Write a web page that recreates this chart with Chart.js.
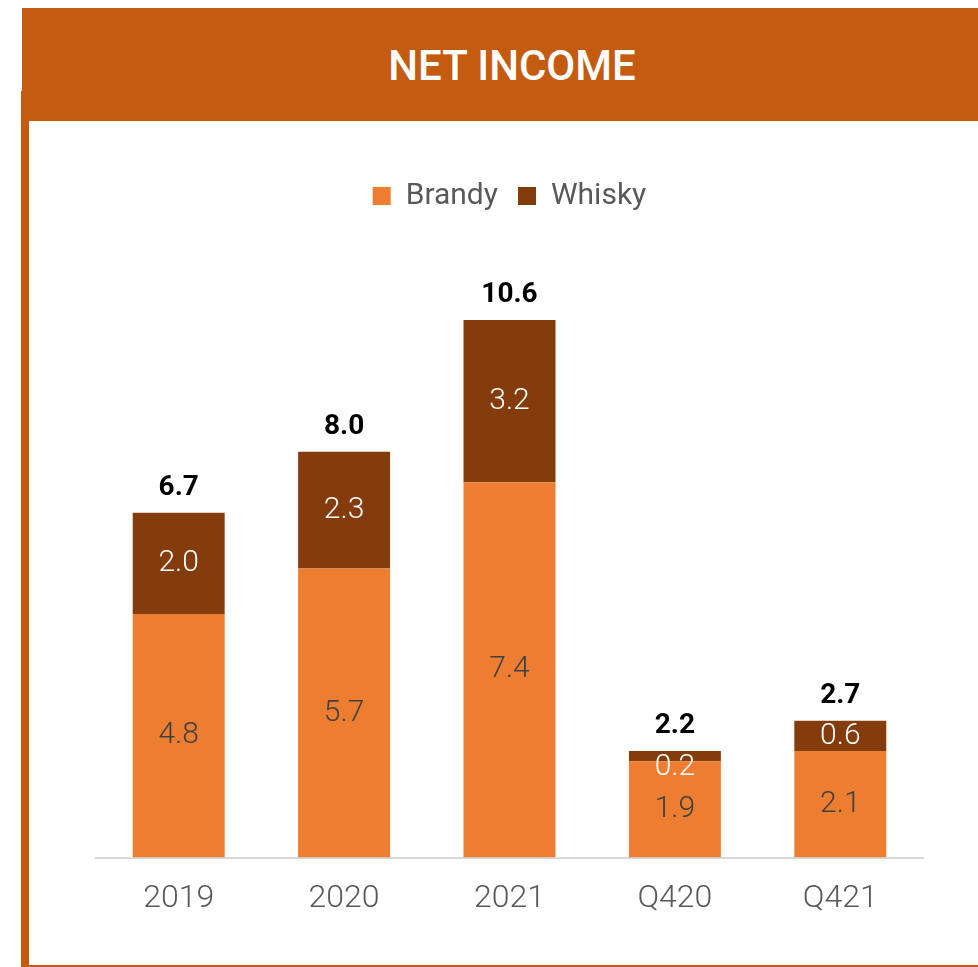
<!DOCTYPE html>
<html>
<head>
<meta charset="utf-8">
<script src="https://cdn.jsdelivr.net/npm/chart.js@4.4.1/dist/chart.umd.min.js"></script>
<style>
    html, body {
        margin: 0;
        padding: 0;
        background: #ffffff;
        width: 978px;
        height: 967px;
        overflow: hidden;
        position: relative;
        font-family: Roboto, "Noto Sans", sans-serif;
    }
    .header {
        position: absolute;
        left: 22px;
        top: 8px;
        width: 980px;
        height: 113px;
        background: #C55A11;
        color: #ffffff;
        font-size: 42px;
        font-weight: 500;
        line-height: 116px;
        text-align: center;
    }
    .frame-left {
        position: absolute;
        left: 21px;
        top: 91px;
        width: 8px;
        height: 876px;
        background: #C55A11;
    }
    .frame-bottom {
        position: absolute;
        left: 21px;
        top: 965px;
        width: 957px;
        height: 2px;
        background: #C55A11;
    }
    .chart-box {
        position: absolute;
        left: 30px;
        top: 121px;
        width: 948px;
        height: 842px;
    }
</style>
</head>
<body>
<div class="frame-left"></div>
<div class="header">NET INCOME</div>
<div class="frame-bottom"></div>
<div class="chart-box"><canvas id="incomeChart"></canvas></div>

<script>
const categories = ["2019", "2020", "2021", "Q420", "Q421"];
const brandy = [4.8, 5.7, 7.4, 1.9, 2.1];
const whisky = [2.0, 2.3, 3.2, 0.2, 0.6];
const totals = [6.7, 8.0, 10.6, 2.2, 2.7];

const brandyColor = '#ED7D31';
const whiskyColor = '#843C0C';

// value labels inside each segment, totals above each stack
const barLabels = {
    id: 'barLabels',
    afterDatasetsDraw(chart) {
        const ctx = chart.ctx;
        ctx.save();
        ctx.textAlign = 'center';
        ctx.textBaseline = 'middle';
        ctx.font = '300 30px Roboto';

        chart.data.datasets.forEach((ds, i) => {
            const meta = chart.getDatasetMeta(i);
            meta.data.forEach((bar, j) => {
                const top = Math.min(bar.y, bar.base);
                const bottom = Math.max(bar.y, bar.base);
                let y = (top + bottom) / 2;
                if (y < top + 16) y = top + 16; // thin slices push the label down
                ctx.fillStyle = i === 0 ? '#404040' : '#ffffff';
                ctx.fillText(ds.data[j].toFixed(1), bar.x, y);
            });
        });

        const topMeta = chart.getDatasetMeta(chart.data.datasets.length - 1);
        ctx.font = 'bold 28px Roboto';
        ctx.fillStyle = '#000000';
        topMeta.data.forEach((bar, j) => {
            ctx.fillText(totals[j].toFixed(1), bar.x, bar.y - 25);
        });
        ctx.restore();
    }
};

new Chart(document.getElementById('incomeChart'), {
    type: 'bar',
    data: {
        labels: categories,
        datasets: [
            { label: 'Brandy', data: brandy, backgroundColor: brandyColor, borderWidth: 0 },
            { label: 'Whisky', data: whisky, backgroundColor: whiskyColor, borderWidth: 0 }
        ]
    },
    options: {
        responsive: true,
        maintainAspectRatio: false,
        animation: false,
        barPercentage: 0.556,
        categoryPercentage: 1.0,
        layout: {
            padding: { left: 66, right: 55, top: 40, bottom: 31 }
        },
        plugins: {
            legend: {
                position: 'top',
                labels: {
                    boxWidth: 18,
                    boxHeight: 18,
                    padding: 20,
                    color: '#595959',
                    font: { family: 'Roboto', size: 30 }
                }
            },
            tooltip: { enabled: false }
        },
        scales: {
            x: {
                stacked: true,
                grid: { display: false },
                border: { color: '#D9D9D9', width: 2 },
                ticks: {
                    color: '#595959',
                    padding: 14,
                    font: { family: 'Roboto', size: 32, weight: 300 }
                }
            },
            y: {
                stacked: true,
                display: false,
                min: 0,
                max: 12.55
            }
        }
    },
    plugins: [barLabels]
});
</script>
</body>
</html>
